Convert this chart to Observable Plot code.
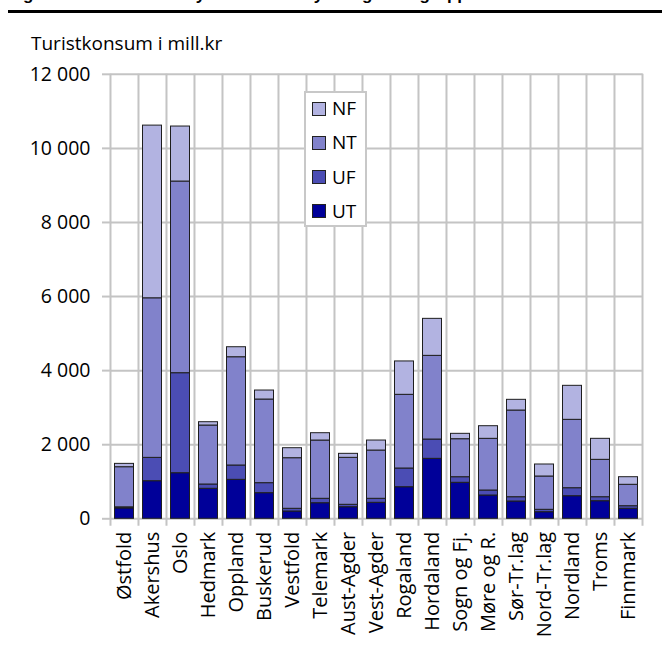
<!DOCTYPE html>
<html>
<head>
<meta charset="utf-8">
<script src="https://cdn.jsdelivr.net/npm/d3@7"></script>
<script src="https://cdn.jsdelivr.net/npm/@observablehq/plot@0.6"></script>
<style>
  body { margin: 0; background: #fff; font-family: "Open Sans", sans-serif; color: #000; }
  #page { position: relative; width: 662px; height: 650px; overflow: hidden; background: #fff; }
  #header { position: relative; height: 60px; }
  #title { position: absolute; left: 8px; top: -15px; font: bold 17px "Liberation Sans", Arial, sans-serif; line-height: 20px; white-space: nowrap; }
  #rule { position: absolute; left: 8px; right: 0; top: 10px; height: 3px; background: #000; }
  #ytitle { position: absolute; left: 31px; top: 33.8px; font-size: 19px; line-height: 1; white-space: nowrap; }
  #legend { position: absolute; left: 304px; top: 91px; width: 59px; height: 132px; border: 2px solid #c8c8c8; background: #fff; }
  .sw { position: absolute; left: 6px; width: 12px; height: 12px; border: 1px solid #222; }
  .lab { position: absolute; left: 26px; font-size: 19px; line-height: 1; white-space: nowrap; }
  #chart svg { display: block; }
</style>
</head>
<body>
<div id="page">
  <div id="header">
    <div id="title">Figur 3. Turistkonsum fylkesvis etter fylke og turistgrupper</div>
    <div id="rule"></div>
    <div id="ytitle">Turistkonsum i mill.kr</div>
  </div>
  <div id="chart"></div>
  <div id="legend"></div>
</div>
<script>
// ---- data ----
const categories = ["Østfold","Akershus","Oslo","Hedmark","Oppland","Buskerud","Vestfold","Telemark","Aust-Agder","Vest-Agder","Rogaland","Hordaland","Sogn og Fj.","Møre og R.","Sør-Tr.lag","Nord-Tr.lag","Nordland","Troms","Finnmark"];
const UT = [280,1015,1231,810,1052,692,197,421,313,432,853,1619,972,629,467,178,610,475,270];
const UF = [30,630,2700,116,387,270,73,119,65,108,505,521,151,135,116,65,216,108,70];
const NT = [1083,4308,5174,1592,2923,2258,1366,1573,1268,1303,1989,2259,1026,1395,2340,899,1846,1009,578];
const NF = [90,4662,1485,90,270,243,270,198,108,270,901,999,145,341,289,324,918,567,205];
const seriesNames = ["UT","UF","NT","NF"];          // bottom to top
const seriesValues = [UT, UF, NT, NF];
const seriesColors = ["#000099","#4b4db4","#8182cb","#b2b3e1"];
const yTicks = [0,2000,4000,6000,8000,10000,12000];

// ---- table for Plot ----
const data = [];
seriesNames.forEach((s, k) => categories.forEach((c, i) => data.push({fylke: c, group: s, value: seriesValues[k][i]})));

const W = 662, H = 590;
const mL = 110, mR = 19.3, mT = 13.8, mB = 131.7;
const bw = (W - mL - mR) / categories.length;
const grid = "#c4c4c4";
const fmt = d => d3.format(",")(d).replace(/,/g, "\u00a0");

const chart = Plot.plot({
  width: W, height: H,
  marginLeft: mL, marginRight: mR, marginTop: mT, marginBottom: mB,
  style: {fontFamily: '"Open Sans", sans-serif', fontSize: "19.5px", background: "transparent", overflow: "visible", color: "#000"},
  x: {type: "band", domain: categories, padding: 0, label: null},
  y: {domain: [0, 12000], label: null},
  color: {domain: seriesNames, range: seriesColors},
  marks: [
    Plot.ruleY(yTicks, {stroke: grid, strokeWidth: 2}),
    Plot.ruleX(categories, {x: d => d, dx: -bw / 2, y1: -200, y2: 12000, stroke: grid, strokeWidth: 2}),
    Plot.ruleX(categories.slice(-1), {x: d => d, dx: bw / 2, y1: -200, y2: 12000, stroke: grid, strokeWidth: 2}),
    Plot.axisY({ticks: yTicks, tickSize: 8, tickPadding: 12, stroke: grid, strokeWidth: 2, fill: "#000", tickFormat: fmt, label: null}),
    Plot.axisX({tickSize: 0, tickRotate: -90, tickPadding: 13, fill: "#000", fontSize: 20, label: null}),
    Plot.barY(data, {x: "fylke", y: "value", fill: "group", order: seriesNames, stroke: "#1e1e1e", strokeWidth: 1, insetLeft: 4.5, insetRight: 4.5})
  ]
});
document.getElementById("chart").appendChild(chart);

// ---- legend (top to bottom: NF, NT, UF, UT) ----
const legend = document.getElementById("legend");
const legendOrder = ["NF","NT","UF","UT"];
legendOrder.forEach((s, j) => {
  const top = 8.7 + j * 34.2;
  const sw = document.createElement("div");
  sw.className = "sw";
  sw.style.top = top + "px";
  sw.style.background = seriesColors[seriesNames.indexOf(s)];
  legend.appendChild(sw);
  const lab = document.createElement("div");
  lab.className = "lab";
  lab.style.top = (top - 2.6) + "px";
  lab.textContent = s;
  legend.appendChild(lab);
});
</script>
</body>
</html>
